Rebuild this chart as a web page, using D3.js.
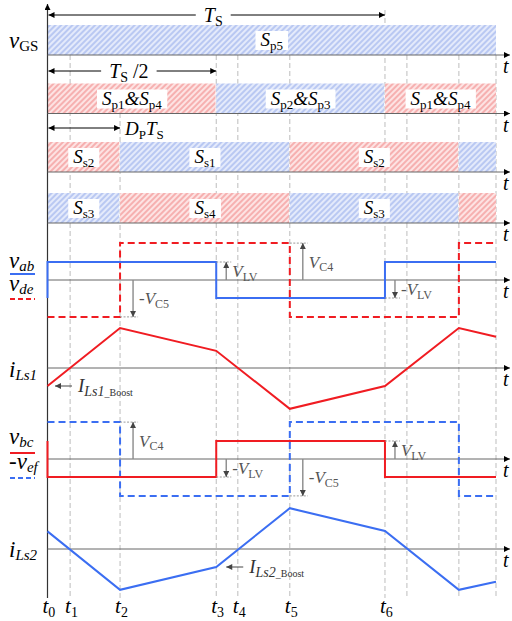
<!DOCTYPE html>
<html><head><meta charset="utf-8">
<script src="https://cdn.jsdelivr.net/npm/d3@7"></script>
<style>html,body{margin:0;padding:0;background:#fff;} svg{display:block;}</style>
</head><body>
<svg id="chart" width="512" height="621"></svg>
<script>
// ---- data: time in units of the switching period Ts ----
const timeNames  = ["0", "1", "2", "3", "4", "5", "6"];
const timeValues = [0, 0.067, 0.215, 0.5, 0.564, 0.718, 1.0];
const gridOnly   = [1.065, 1.219, 1.329];
const tEnd  = 1.329;
const dutyP = 0.215;

// gate signals: [start, end, tone, label]
const vgsSegs     = [[0, tEnd, "b", "S_p5"]];
const primarySegs = [[0, 0.5, "r", "S_p1&S_p4"], [0.5, 1.0, "b", "S_p2&S_p3"], [1.0, tEnd, "r", "S_p1&S_p4"]];
const ss12Segs    = [[0, dutyP, "r", "S_s2"], [dutyP, 0.718, "b", "S_s1"], [0.718, 1.219, "r", "S_s2"], [1.219, tEnd, "b", ""]];
const ss34Segs    = [[0, dutyP, "b", "S_s3"], [dutyP, 0.718, "r", "S_s4"], [0.718, 1.219, "b", "S_s3"], [1.219, tEnd, "r", ""]];

// bridge voltages, in units of V_LV
const VC = 2.05;
const vabPts    = [[0, -1], [0, 1], [0.5, -1], [1.0, 1], [tEnd, 1]];
const vdePts    = [[0, -VC], [dutyP, VC], [0.718, -VC], [1.219, VC], [tEnd, VC]];
const vbcPts    = [[0, 1], [0, -1], [0.5, 1], [1.0, -1], [tEnd, -1]];
const vefNegPts = [[0, VC], [dutyP, -VC], [0.718, VC], [1.219, -VC], [tEnd, -VC]];

// inductor currents (normalised)
const iLs1Pts = [[0, -0.45], [0.215, 1.0], [0.5, 0.43], [0.718, -1.02], [1.0, -0.45], [1.219, 1.0], [tEnd, 0.78]];
const iLs2Pts = [[0, 0.44], [0.215, -1.02], [0.5, -0.45], [0.718, 1.02], [1.0, 0.45], [1.219, -1.02], [tEnd, -0.82]];

// voltage level markers: [time, level, label]
const upperMarks = [[dutyP, -VC, "-V_C5"], [0.5, 1, "V_LV"], [0.718, VC, "V_C4"], [1.0, -1, "-V_LV"]];
const lowerMarks = [[dutyP, VC, "V_C4"], [0.5, -1, "-V_LV"], [0.718, -VC, "-V_C5"], [1.0, 1, "V_LV"]];

// ---- drawing ----
const SERIF = "'Liberation Serif','Times New Roman',serif";
const BLUE = "#3b6ef2", RED = "#f01c22";
const svg = d3.select("#chart");
const x = d3.scaleLinear().domain([0, tEnd]).range([47.5, 496]);
const X0 = x(0), XAXIS_END = 510;

const defs = svg.append("defs");
function hatch(id, bg, stripe) {
  const p = defs.append("pattern").attr("id", id).attr("patternUnits", "userSpaceOnUse")
    .attr("width", 4).attr("height", 4).attr("patternTransform", "rotate(45)");
  p.append("rect").attr("width", 4).attr("height", 4).attr("fill", bg);
  p.append("rect").attr("width", 2).attr("height", 4).attr("fill", stripe);
}
hatch("hb", "#e4eafb", "#b9c8f2");
hatch("hr", "#fde3e3", "#f6b0b0");
function marker(id, color, w, h) {
  defs.append("marker").attr("id", id).attr("viewBox", "0 0 10 10").attr("refX", 10).attr("refY", 5)
    .attr("markerUnits", "userSpaceOnUse").attr("markerWidth", w).attr("markerHeight", h)
    .attr("orient", "auto-start-reverse")
    .append("path").attr("d", "M0,0L10,5L0,10z").attr("fill", color);
}
marker("ah", "#000", 10, 6);
marker("ag", "#444", 7, 6);

function parseLabel(s) {
  const parts = []; let i = 0;
  while (i < s.length) {
    const c = s[i];
    if (c === "_") { let j = i + 1; while (j < s.length && /[A-Za-z0-9]/.test(s[j])) j++; parts.push([s.slice(i + 1, j), "sr"]); i = j; }
    else if (c === "-") { parts.push(["-", "r"]); i++; }
    else if (c === "&") { parts.push(["&", "i"]); i++; }
    else { let j = i; while (j < s.length && !/[_&-]/.test(s[j])) j++; parts.push([s.slice(i, j), "i"]); i = j; }
  }
  return parts;
}

// text with italic/roman runs and subscripts
function rich(g, px, py, parts, o) {
  o = Object.assign({ size: 18, sub: 12, anchor: "start", fill: "#000", drop: 0.28 }, o || {});
  const t = g.append("text").attr("x", px).attr("y", py).attr("font-family", SERIF)
    .attr("fill", o.fill).attr("text-anchor", o.anchor);
  const shift = o.size * o.drop;
  let inSub = false;
  parts.forEach(([str, kind, sz]) => {
    const isSub = kind[0] === "s";
    const ts = t.append("tspan").text(str)
      .attr("font-style", kind[kind.length - 1] === "i" ? "italic" : "normal")
      .attr("font-size", sz || (isSub ? o.sub : o.size));
    if (isSub && !inSub) ts.attr("dy", shift);
    else if (!isSub && inSub) ts.attr("dy", -shift);
    inSub = isSub;
  });
  return t;
}
function withBox(g, textSel, padX, y0, h) {
  const b = textSel.node().getBBox();
  g.insert("rect", () => textSel.node()).attr("x", b.x - padX).attr("width", b.width + 2 * padX)
    .attr("y", y0 != null ? y0 : b.y).attr("height", h != null ? h : b.height).attr("fill", "#fff");
}

// dashed time grid
const gGrid = svg.append("g");
[...timeValues.slice(1), ...gridOnly].forEach(t => {
  const top = t === 1.0 ? 10 : (t === dutyP ? 113 : 55);
  gGrid.append("line").attr("x1", x(t)).attr("x2", x(t)).attr("y1", top).attr("y2", 598)
    .attr("stroke", "#bdbdbd").attr("stroke-width", 1).attr("stroke-dasharray", "5,3");
});

// gate signal rows
const gBars = svg.append("g");
const rowTops = [25, 83.5, 142, 193];
[vgsSegs, primarySegs, ss12Segs, ss34Segs].forEach((segs, r) => {
  const top = rowTops[r], h = 30, mid = top + h / 2;
  segs.forEach(([a, b, tone]) => {
    gBars.append("rect").attr("x", x(a)).attr("y", top).attr("width", x(b) - x(a) - (b < tEnd ? 0.8 : 0)).attr("height", h)
      .attr("fill", tone === "b" ? "url(#hb)" : "url(#hr)");
  });
  segs.forEach(([a, b, tone, label]) => {
    if (!label) return;
    const t = rich(gBars, (x(a) + x(b)) / 2, mid + 6, parseLabel(label), { size: 19, sub: 13, anchor: "middle", drop: 0.22 });
    withBox(gBars, t, 5, mid - 9, 19);
  });
});

// axes
const gAx = svg.append("g");
gAx.append("line").attr("x1", X0).attr("x2", X0).attr("y1", 598).attr("y2", 4)
  .attr("stroke", "#333").attr("stroke-width", 1.2).attr("marker-end", "url(#ah)");
[55, 113.5, 172, 223, 280, 368, 459, 549].forEach(ay => {
  gAx.append("line").attr("x1", X0).attr("x2", XAXIS_END).attr("y1", ay).attr("y2", ay)
    .attr("stroke", "#666").attr("stroke-width", 1).attr("marker-end", "url(#ah)");
  rich(gAx, 503, ay + 18, [["t", "i"]], { size: 20 });
});

// signal panels
const yVab = d3.scaleLinear().domain([-1, 1]).range([298, 262]);
const yVbc = d3.scaleLinear().domain([-1, 1]).range([477, 441]);
const yI1 = d3.scaleLinear().domain([-1, 1]).range([408, 328]);
const yI2 = d3.scaleLinear().domain([-1, 1]).range([589, 509]);
const gSig = svg.append("g").attr("fill", "none");
function trace(pts, ys, color, dashed, step) {
  const line = d3.line().x(d => x(d[0])).y(d => ys(d[1])).curve(step ? d3.curveStepAfter : d3.curveLinear);
  gSig.append("path").attr("d", line(pts)).attr("stroke", color).attr("stroke-width", 2)
    .attr("stroke-dasharray", dashed ? "7,4" : null);
}
// level markers (drawn under the traces)
const gMark = svg.append("g");
function levelMarks(marks, ys) {
  marks.forEach(([t, lvl, label]) => {
    const x0 = x(t), ax = x0 + (Math.abs(lvl) > 1.5 ? 13 : 10);
    const y0 = ys(0), yl = ys(lvl);
    gMark.append("line").attr("x1", x0).attr("x2", ax + 5).attr("y1", yl).attr("y2", yl)
      .attr("stroke", "#999").attr("stroke-dasharray", "2,1.5");
    gMark.append("line").attr("x1", ax).attr("x2", ax).attr("y1", y0).attr("y2", yl)
      .attr("stroke", "#8a8a8a").attr("stroke-width", 1.4).attr("marker-end", "url(#ag)");
    rich(gMark, ax + 6, (y0 + yl) / 2 + 6, parseLabel(label), { size: 17, sub: 12, fill: "#555", drop: 0.22 });
  });
}
levelMarks(upperMarks, yVab);
levelMarks(lowerMarks, yVbc);

trace(vdePts, yVab, RED, true, true);
trace(vabPts, yVab, BLUE, false, true);
trace(vefNegPts, yVbc, BLUE, true, true);
trace(vbcPts, yVbc, RED, false, true);
trace(iLs1Pts, yI1, RED, false, false);
trace(iLs2Pts, yI2, BLUE, false, false);

// current annotations
const gNote = svg.append("g");
function boostNote(px, py, name) {
  gNote.append("line").attr("x1", px + 17).attr("x2", px).attr("y1", py).attr("y2", py)
    .attr("stroke", "#444").attr("stroke-width", 1).attr("marker-end", "url(#ag)");
  rich(gNote, px + 23, py + 6, [["I", "i"], [name, "si"], ["_Boost", "sr", 10]], { size: 19, sub: 14, fill: "#333", drop: 0.22 });
}
boostNote(X0 + 7.5, yI1(iLs1Pts[0][1]), "Ls1");
boostNote(x(0.5) + 10, yI2(iLs2Pts[2][1]), "Ls2");

// dimension arrows
const gDim = svg.append("g");
function dim(a, b, y, parts, inline) {
  gDim.append("line").attr("x1", x(a) + 1).attr("x2", x(b)).attr("y1", y).attr("y2", y)
    .attr("stroke", "#000").attr("stroke-width", 1).attr("marker-start", "url(#ah)").attr("marker-end", "url(#ah)");
  if (inline) {
    const t = rich(gDim, (x(a) + x(b)) / 2 - 3, y + 7, parts, { size: 20, sub: 14, anchor: "middle", drop: 0.2 });
    withBox(gDim, t, 8, y - 10, 20);
  } else {
    rich(gDim, x(b) + 5, y + 7, parts, { size: 19, sub: 13, drop: 0.2 });
  }
}
dim(0, 1.0, 15, [["T", "i"], ["S", "sr"]], true);
dim(0, 0.5, 71, [["T", "i"], ["S", "sr"], [" /2", "r"]], true);
dim(0, dutyP, 128, [["D", "i"], ["P", "sr"], ["T", "i"], ["S", "sr"]], false);

// left-hand signal names and legend keys
const gLab = svg.append("g");
const nameOpt = { size: 23, sub: 15, drop: 0.14 };
rich(gLab, 9, 48, [["v", "i"], ["GS", "sr"]], nameOpt);
rich(gLab, 9, 268, [["v", "i"], ["ab", "si"]], nameOpt);
rich(gLab, 9, 291, [["v", "i"], ["de", "si"]], nameOpt);
rich(gLab, 9, 377, [["i", "i"], ["Ls1", "si"]], nameOpt);
rich(gLab, 9, 444, [["v", "i"], ["bc", "si"]], nameOpt);
rich(gLab, 9, 469, [["-", "r"], ["v", "i"], ["ef", "si"]], nameOpt);
rich(gLab, 9, 557, [["i", "i"], ["Ls2", "si"]], nameOpt);
const key = (y, c, dashed) => gLab.append("line").attr("x1", 10).attr("x2", 35).attr("y1", y).attr("y2", y)
  .attr("stroke", c).attr("stroke-width", 2).attr("stroke-dasharray", dashed ? "5,3" : null);
key(274, BLUE, false); key(299, RED, true); key(453, RED, false); key(478, BLUE, true);

// time instants along the bottom
timeValues.forEach((t, i) => {
  rich(gLab, x(t) - 5, 613, [["t", "i"], [timeNames[i], "sr"]], { size: 21, sub: 14, drop: 0.2 });
});
</script>
</body></html>
